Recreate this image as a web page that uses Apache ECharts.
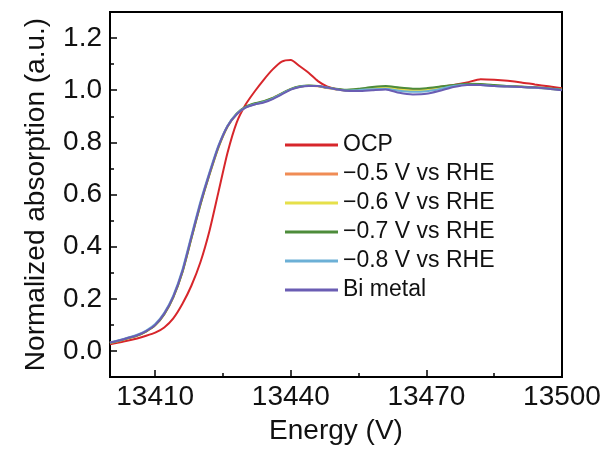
<!DOCTYPE html>
<html>
<head>
<meta charset="utf-8">
<script src="https://cdn.jsdelivr.net/npm/echarts@6/dist/echarts.min.js"></script>
<style>html,body{margin:0;padding:0;background:#fff}#c{width:608px;height:452px}</style>
</head>
<body>
<div id="c"></div>
<script>
const energy = [13400,13403,13406,13408,13410,13412,13414,13416,13418,13420,13422,13424,13426,13428,13430,13432,13434,13436,13438,13440,13442,13444,13446,13448,13450,13452,13455,13458,13461,13464,13467,13470,13473,13476,13479,13482,13485,13488,13491,13494,13497,13500];
const ocp  = [0.026,0.036,0.048,0.058,0.070,0.090,0.125,0.180,0.250,0.340,0.460,0.610,0.760,0.875,0.945,0.995,1.040,1.080,1.110,1.116,1.092,1.066,1.035,1.015,1.005,1.000,1.000,1.005,1.010,1.005,1.000,1.004,1.012,1.020,1.030,1.042,1.040,1.036,1.030,1.022,1.015,1.008];
const m05  = [0.030,0.043,0.058,0.074,0.098,0.140,0.205,0.300,0.430,0.560,0.675,0.780,0.860,0.908,0.935,0.948,0.957,0.970,0.988,1.004,1.014,1.017,1.015,1.008,1.003,0.999,1.002,1.006,1.010,1.004,1.000,1.002,1.008,1.016,1.022,1.022,1.018,1.015,1.013,1.010,1.007,1.002];
const m06  = [0.031,0.044,0.059,0.075,0.099,0.141,0.206,0.302,0.432,0.562,0.677,0.782,0.861,0.908,0.934,0.946,0.955,0.968,0.986,1.003,1.013,1.017,1.016,1.009,1.004,1.000,1.003,1.007,1.010,1.003,0.999,1.001,1.008,1.017,1.022,1.021,1.017,1.014,1.012,1.009,1.006,1.001];
const m07  = [0.031,0.044,0.059,0.075,0.099,0.141,0.206,0.302,0.432,0.562,0.678,0.783,0.862,0.910,0.937,0.950,0.958,0.970,0.988,1.005,1.015,1.018,1.016,1.010,1.006,1.002,1.006,1.012,1.016,1.010,1.006,1.008,1.014,1.020,1.025,1.024,1.020,1.016,1.014,1.011,1.008,1.003];
const m08  = [0.032,0.046,0.062,0.078,0.103,0.146,0.212,0.310,0.442,0.572,0.685,0.788,0.864,0.909,0.934,0.946,0.955,0.968,0.986,1.003,1.013,1.017,1.016,1.010,1.004,0.999,1.001,1.004,1.006,0.998,0.994,0.996,1.005,1.016,1.021,1.020,1.016,1.014,1.012,1.009,1.006,1.001];
const bi   = [0.032,0.045,0.060,0.076,0.100,0.143,0.208,0.305,0.436,0.566,0.680,0.785,0.862,0.907,0.933,0.945,0.953,0.966,0.984,1.002,1.012,1.016,1.016,1.010,1.004,0.998,0.997,1.000,1.003,0.990,0.984,0.986,0.998,1.012,1.020,1.020,1.016,1.014,1.012,1.010,1.006,1.000];

const seriesNames = ['OCP','\u22120.5 V vs RHE','\u22120.6 V vs RHE','\u22120.7 V vs RHE','\u22120.8 V vs RHE','Bi metal'];
const seriesValues = [ocp, m05, m06, m07, m08, bi];
const seriesColors = ['#d7262b','#f08c55','#e6e04a','#4d8c3a','#6cb0d6','#6a5db3'];

const xMajorTicks = [13410,13440,13470,13500];
const xMinorTicks = [13425,13455,13485];
const yMajorTicks = [0,0.2,0.4,0.6,0.8,1.0,1.2];
const yMinorTicks = [0.1,0.3,0.5,0.7,0.9,1.1];

const FONT = 'Liberation Sans, Arial, sans-serif';
const chart = echarts.init(document.getElementById('c'), null, {renderer:'canvas'});

const series = seriesNames.map((n, k) => ({
  name: n, type: 'line', xAxisIndex: 0, yAxisIndex: 0,
  showSymbol: false, symbol: 'none', smooth: 0.2,
  lineStyle: {width: 2, color: seriesColors[k]},
  itemStyle: {color: seriesColors[k]},
  data: energy.map((e, i) => [e, seriesValues[k][i]])
}));

chart.setOption({
  animation: false,
  backgroundColor: '#fff',
  grid: {left: 110, right: 46, top: 12, bottom: 75, show: true, borderColor: '#000', borderWidth: 2, containLabel: false},
  legend: {
    orient: 'vertical', left: 285, top: 133, padding: 0,
    itemWidth: 53, itemHeight: 3, itemGap: 5, icon: 'rect',
    textStyle: {fontFamily: FONT, fontSize: 23, color: '#111', lineHeight: 24},
    data: seriesNames
  },
  xAxis: [{
    type: 'value', min: 13400, max: 13500, position: 'bottom',
    name: 'Energy (V)', nameLocation: 'middle', nameGap: 40,
    nameTextStyle: {fontFamily: FONT, fontSize: 28, color: '#111'},
    axisLine: {show: true, onZero: false, lineStyle: {color: '#000', width: 2}},
    axisTick: {show: true, inside: true, length: 7, lineStyle: {color: '#000', width: 1.5}, customValues: xMajorTicks},
    axisLabel: {fontFamily: FONT, fontSize: 28, color: '#111', margin: 6, customValues: xMajorTicks, formatter: v => String(v)},
    splitLine: {show: false}
  }, {
    type: 'value', min: 13400, max: 13500, position: 'bottom',
    axisLine: {show: false, onZero: false},
    axisTick: {show: true, inside: true, length: 4, lineStyle: {color: '#000', width: 1.5}, customValues: xMinorTicks},
    axisLabel: {show: false},
    splitLine: {show: false}
  }],
  yAxis: [{
    type: 'value', min: -0.1, max: 1.3, position: 'left',
    name: 'Normalized absorption (a.u.)', nameLocation: 'middle', nameGap: 60,
    nameTextStyle: {fontFamily: FONT, fontSize: 28, color: '#111'},
    axisLine: {show: true, onZero: false, lineStyle: {color: '#000', width: 2}},
    axisTick: {show: true, inside: true, length: 7, lineStyle: {color: '#000', width: 1.5}, customValues: yMajorTicks},
    axisLabel: {fontFamily: FONT, fontSize: 28, color: '#111', margin: 8, customValues: yMajorTicks, formatter: v => v.toFixed(1)},
    splitLine: {show: false}
  }, {
    type: 'value', min: -0.1, max: 1.3, position: 'left',
    axisLine: {show: false, onZero: false},
    axisTick: {show: true, inside: true, length: 4, lineStyle: {color: '#000', width: 1.5}, customValues: yMinorTicks},
    axisLabel: {show: false},
    splitLine: {show: false}
  }],
  series: series
});
</script>
</body>
</html>
